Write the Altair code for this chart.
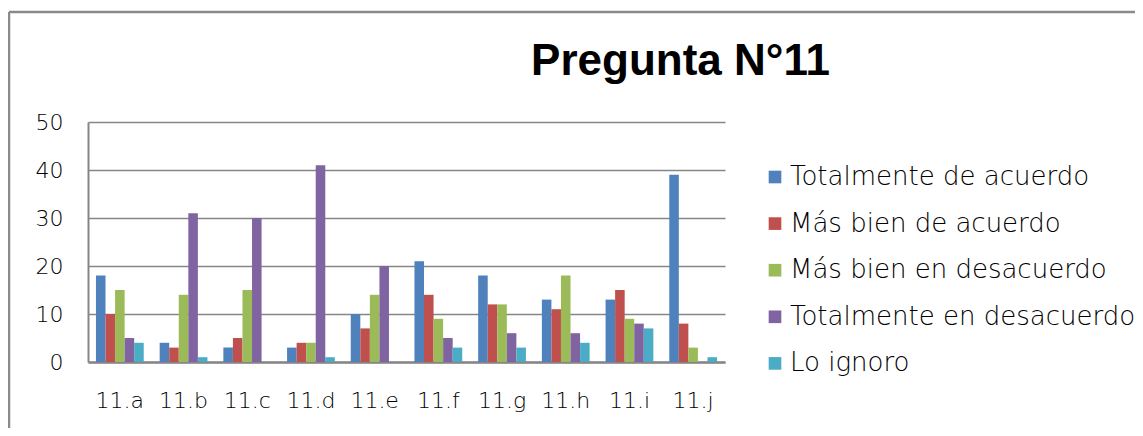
import altair as alt
import pandas as pd

categories = ["11.a", "11.b", "11.c", "11.d", "11.e", "11.f", "11.g", "11.h", "11.i", "11.j"]
series_names = [
    "Totalmente de acuerdo",
    "Más bien de acuerdo",
    "Más bien en desacuerdo",
    "Totalmente en desacuerdo",
    "Lo ignoro",
]
totalmente_de_acuerdo = [18, 4, 3, 3, 10, 21, 18, 13, 13, 39]
mas_bien_de_acuerdo = [10, 3, 5, 4, 7, 14, 12, 11, 15, 8]
mas_bien_en_desacuerdo = [15, 14, 15, 4, 14, 9, 12, 18, 9, 3]
totalmente_en_desacuerdo = [5, 31, 30, 41, 20, 5, 6, 6, 8, 0]
lo_ignoro = [4, 1, 0, 1, 0, 3, 3, 4, 7, 1]
colors = ["#4F81BD", "#C0504D", "#9BBB59", "#8064A2", "#4BACC6"]
y_ticks = [0, 10, 20, 30, 40, 50]

series_values = [totalmente_de_acuerdo, mas_bien_de_acuerdo, mas_bien_en_desacuerdo,
                 totalmente_en_desacuerdo, lo_ignoro]
rows = []
for name, vals in zip(series_names, series_values):
    for cat, v in zip(categories, vals):
        rows.append({"pregunta": cat, "respuesta": name, "valor": v})
df = pd.DataFrame(rows)

FONT = "DejaVu Sans"
WEIGHT = 200
GRID = "#868686"

bars = alt.Chart(df).mark_bar().encode(
    x=alt.X("pregunta:N", sort=categories,
            scale=alt.Scale(paddingInner=0.25, paddingOuter=0.125),
            axis=alt.Axis(title=None, labelAngle=0, ticks=False, domainColor=GRID,
                          domainWidth=2.5, labelFont=FONT, labelFontSize=22,
                          labelFontWeight=WEIGHT, labelColor="#000000", labelPadding=28)),
    xOffset=alt.XOffset("respuesta:N", sort=series_names,
                        scale=alt.Scale(paddingInner=0, paddingOuter=0)),
    y=alt.Y("valor:Q", scale=alt.Scale(domain=[0, 50], nice=False),
            axis=alt.Axis(title=None, values=y_ticks, grid=True, gridColor=GRID,
                          gridWidth=1.6, domainColor=GRID, domainWidth=2, ticks=False,
                          labelFont=FONT, labelFontSize=22, labelFontWeight=WEIGHT,
                          labelColor="#000000", labelPadding=25)),
    color=alt.Color("respuesta:N", sort=series_names,
                    scale=alt.Scale(domain=series_names, range=colors),
                    legend=alt.Legend(title=None, orient="none", legendX=674, legendY=42,
                                      symbolType="square", symbolSize=160,
                                      symbolStrokeWidth=0, labelFont=FONT,
                                      labelFontSize=26, labelFontWeight=WEIGHT,
                                      labelColor="#000000", rowPadding=20.6,
                                      labelOffset=2, labelLimit=440)),
)

border_left = alt.Chart(pd.DataFrame({"k": [0]})).mark_rule(
    color="#8a8a8a", strokeWidth=2.5
).encode(x=alt.value(-79), y=alt.value(-110), y2=alt.value(330))
border_top = alt.Chart(pd.DataFrame({"k": [0]})).mark_rule(
    color="#8a8a8a", strokeWidth=2.5
).encode(x=alt.value(-79), x2=alt.value(1060), y=alt.value(-110))

chart = alt.layer(bars, border_left, border_top).properties(
    width=637,
    height=240,
    autosize="none",
    padding={"left": 80, "top": 114, "right": 410, "bottom": 66},
    title=alt.TitleParams("Pregunta N°11", font="Liberation Sans", fontSize=44,
                          fontWeight="bold", color="#000000", anchor="middle",
                          dx=274, dy=117, offset=44),
).configure_view(stroke=None)

chart.save("out.html", embed_options={"renderer": "svg", "actions": False})
